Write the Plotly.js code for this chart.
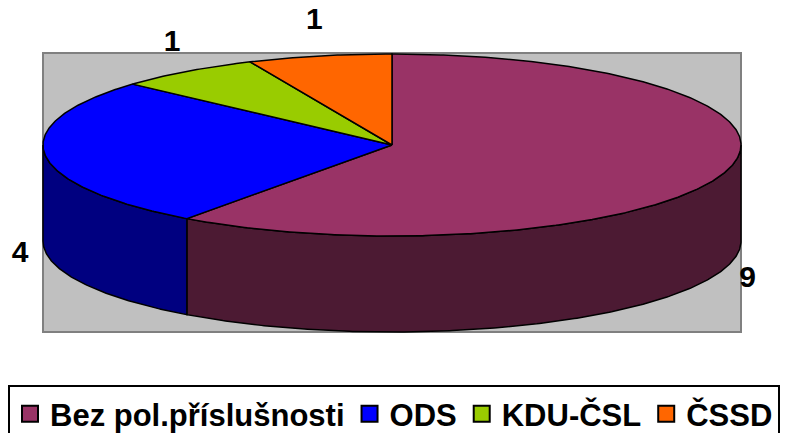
<!DOCTYPE html>
<html>
<head>
<meta charset="utf-8">
<script src="https://cdn.plot.ly/plotly-3.0.1.min.js"></script>
<style>html,body{margin:0;padding:0;background:#fff;}#chart{width:791px;height:433px;}</style>
</head>
<body>
<div id="chart"></div>
<script>
// ---- data ----
const labels = ['Bez pol.příslušnosti', 'ODS', 'KDU-ČSL', 'ČSSD'];
const values = [9, 4, 1, 1];
const valueLabels = ['9', '4', '1', '1'];

// ---- styles ----
const topColors = ['#993366', '#0000FF', '#99CC00', '#FF6600'];
const sideColors = ['#4C1A33', '#000080', '#4C6600', '#803300'];

// ---- geometry of the 3D pie (pixel space) ----
const CX = 392, CY = 145, RX = 349, RY = 91, DEPTH = 96;
const FONT = 'Liberation Sans, Arial, sans-serif';

function pt(th, dy) {
  return [CX + RX * Math.sin(th), CY - RY * Math.cos(th) + dy];
}
function arc(a, b, dy) {
  const n = Math.max(2, Math.ceil(Math.abs(b - a) / (Math.PI / 360)));
  const xs = [], ys = [];
  for (let i = 0; i <= n; i++) {
    const t = a + (b - a) * i / n;
    const p = pt(t, dy);
    xs.push(p[0]); ys.push(p[1]);
  }
  return [xs, ys];
}

const total = values.reduce((s, v) => s + v, 0);
const starts = [], ends = [];
let acc = 0;
values.forEach(v => {
  starts.push(acc / total * 2 * Math.PI);
  acc += v;
  ends.push(acc / total * 2 * Math.PI);
});

const traces = [];
// sides (front half only)
values.forEach((v, i) => {
  const a = Math.max(starts[i], Math.PI / 2);
  const b = Math.min(ends[i], 3 * Math.PI / 2);
  if (a < b) {
    const top = arc(a, b, 0);
    const bot = arc(b, a, DEPTH);
    traces.push({
      type: 'scatter', mode: 'lines', fill: 'toself',
      x: top[0].concat(bot[0]).concat([top[0][0]]),
      y: top[1].concat(bot[1]).concat([top[1][0]]),
      fillcolor: sideColors[i], line: {color: '#000', width: 1.5},
      showlegend: false, hoverinfo: 'skip'
    });
  }
});
// top faces
values.forEach((v, i) => {
  const ar = arc(starts[i], ends[i], 0);
  traces.push({
    type: 'scatter', mode: 'lines', fill: 'toself',
    x: [CX].concat(ar[0]).concat([CX]),
    y: [CY].concat(ar[1]).concat([CY]),
    fillcolor: topColors[i], line: {color: '#000', width: 1.5},
    showlegend: false, hoverinfo: 'skip'
  });
});
// value labels
const lx = [], ly = [];
values.forEach((v, i) => {
  const m = (starts[i] + ends[i]) / 2;
  const front = Math.cos(m) < 0;
  lx.push(CX + (RX + 25) * Math.sin(m));
  ly.push(CY - (RY + 35) * Math.cos(m) + (front ? DEPTH : 0));
});
traces.push({
  type: 'scatter', mode: 'text', x: lx, y: ly, text: valueLabels,
  textposition: 'middle center',
  textfont: {family: FONT, size: 30, color: '#000', weight: 'bold'},
  showlegend: false, hoverinfo: 'skip', cliponaxis: false
});
// legend entries
labels.forEach((name, i) => {
  traces.push({
    type: 'scatter', mode: 'markers', x: [null], y: [null], name: name,
    marker: {symbol: 'square', size: 16, color: topColors[i], line: {color: '#000', width: 2}},
    showlegend: true, hoverinfo: 'skip'
  });
});

const layout = {
  width: 791, height: 433,
  margin: {l: 0, r: 0, t: 0, b: 0, autoexpand: false},
  paper_bgcolor: '#fff', plot_bgcolor: '#fff',
  xaxis: {range: [0, 791], visible: false, fixedrange: true},
  yaxis: {range: [433, 0], visible: false, fixedrange: true},
  shapes: [{
    type: 'rect', xref: 'x', yref: 'y', x0: 43, x1: 741, y0: 53, y1: 332,
    fillcolor: '#C0C0C0', line: {color: '#808080', width: 2}, layer: 'below'
  }],
  showlegend: true,
  legend: {
    orientation: 'h', x: 8 / 791, xanchor: 'left', y: 1 - 385 / 433, yanchor: 'top',
    bgcolor: '#fff', bordercolor: '#000', borderwidth: 2,
    font: {family: FONT, size: 31, color: '#000', weight: 'bold'},
    itemsizing: 'trace', tracegroupgap: 0
  }
};

Plotly.newPlot('chart', traces, layout, {staticPlot: true, displayModeBar: false});
</script>
</body>
</html>
